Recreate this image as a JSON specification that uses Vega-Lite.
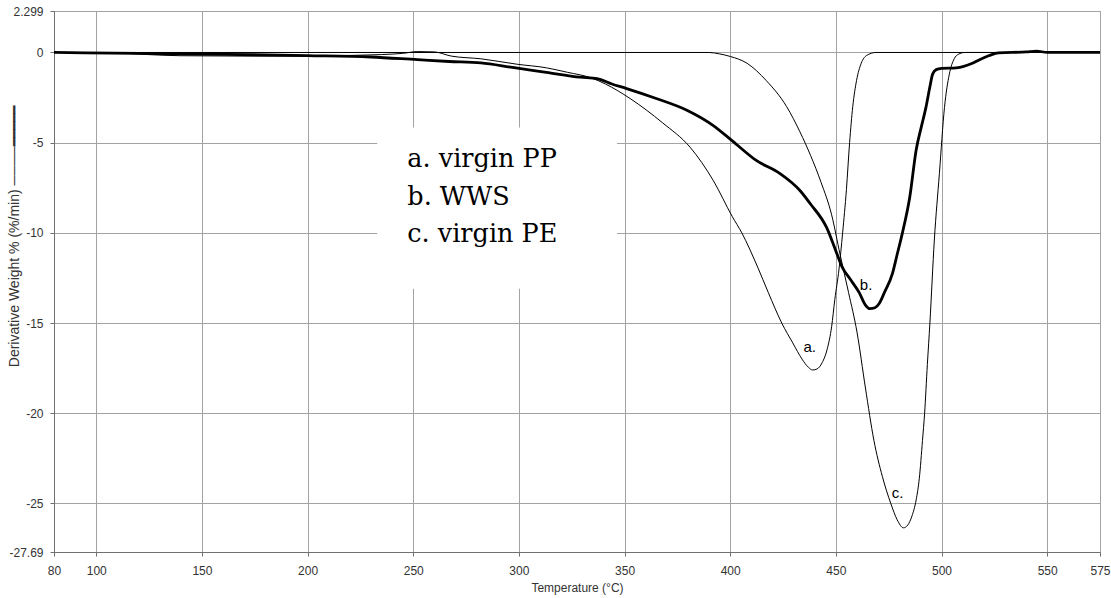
{
  "$schema": "https://vega.github.io/schema/vega-lite/v6.json",
  "width": 1046,
  "height": 541,
  "autosize": {"type": "none"},
  "padding": {"left": 54, "top": 11, "right": 11, "bottom": 46},
  "background": "white",
  "config": {
    "font": "Liberation Sans",
    "view": {"stroke": "#9a9a9a", "strokeWidth": 1},
    "axis": {
      "labelFont": "Liberation Sans",
      "titleFont": "Liberation Sans",
      "labelColor": "#333333",
      "titleColor": "#333333",
      "titleFontWeight": "normal",
      "labelFontSize": 12,
      "gridColor": "#a3a3a3",
      "gridWidth": 1,
      "domainColor": "#707070",
      "tickColor": "#707070",
      "tickSize": 4,
      "labelFlush": false,
      "labelOverlap": false,
      "labelBound": false
    }
  },
  "datasets": {
    "curves": [
      {"s":"a","T":80,"v":0},{"s":"a","T":110,"v":-0.03},{"s":"a","T":125,"v":-0.12},{"s":"a","T":140,"v":-0.18},{"s":"a","T":170,"v":-0.2},{"s":"a","T":200,"v":-0.2},{"s":"a","T":225,"v":-0.15},{"s":"a","T":245,"v":-0.05},{"s":"a","T":252,"v":0.05},{"s":"a","T":260,"v":0.03},{"s":"a","T":268,"v":-0.2},{"s":"a","T":282,"v":-0.35},{"s":"a","T":299,"v":-0.65},{"s":"a","T":313,"v":-0.85},{"s":"a","T":323,"v":-1.1},{"s":"a","T":334,"v":-1.4},{"s":"a","T":341,"v":-1.75},{"s":"a","T":352.6,"v":-2.55},{"s":"a","T":368,"v":-3.9},{"s":"a","T":381,"v":-5.25},{"s":"a","T":392,"v":-7.1},{"s":"a","T":401,"v":-9.1},{"s":"a","T":405.5,"v":-10},{"s":"a","T":413,"v":-11.9},{"s":"a","T":418,"v":-13.3},{"s":"a","T":424.4,"v":-15},{"s":"a","T":429.6,"v":-16.1},{"s":"a","T":434,"v":-17.0},{"s":"a","T":437,"v":-17.45},{"s":"a","T":439,"v":-17.6},{"s":"a","T":441,"v":-17.55},{"s":"a","T":443.5,"v":-17.2},{"s":"a","T":446,"v":-16.4},{"s":"a","T":448,"v":-15.2},{"s":"a","T":449.5,"v":-13.7},{"s":"a","T":451.5,"v":-12},{"s":"a","T":453.2,"v":-10},{"s":"a","T":455,"v":-7.6},{"s":"a","T":456.5,"v":-5.0},{"s":"a","T":458,"v":-3.0},{"s":"a","T":459.8,"v":-1.55},{"s":"a","T":462,"v":-0.6},{"s":"a","T":464.5,"v":-0.17},{"s":"a","T":469,"v":0},{"s":"a","T":520,"v":0},{"s":"a","T":575,"v":0},
      {"s":"b","T":80,"v":0},{"s":"b","T":120,"v":-0.05},{"s":"b","T":160,"v":-0.1},{"s":"b","T":200,"v":-0.17},{"s":"b","T":230,"v":-0.25},{"s":"b","T":252,"v":-0.4},{"s":"b","T":267,"v":-0.5},{"s":"b","T":282,"v":-0.58},{"s":"b","T":297,"v":-0.83},{"s":"b","T":313,"v":-1.1},{"s":"b","T":329,"v":-1.37},{"s":"b","T":337,"v":-1.45},{"s":"b","T":344,"v":-1.75},{"s":"b","T":351,"v":-2.0},{"s":"b","T":365,"v":-2.55},{"s":"b","T":379.5,"v":-3.2},{"s":"b","T":392,"v":-4.05},{"s":"b","T":401,"v":-4.9},{"s":"b","T":412.5,"v":-6.0},{"s":"b","T":423.4,"v":-6.7},{"s":"b","T":433,"v":-7.65},{"s":"b","T":438,"v":-8.4},{"s":"b","T":445.6,"v":-9.7},{"s":"b","T":450,"v":-11.0},{"s":"b","T":453,"v":-11.9},{"s":"b","T":457,"v":-12.6},{"s":"b","T":461,"v":-13.3},{"s":"b","T":464,"v":-14.0},{"s":"b","T":466,"v":-14.2},{"s":"b","T":468.5,"v":-14.15},{"s":"b","T":470.6,"v":-13.9},{"s":"b","T":473,"v":-13.3},{"s":"b","T":476.8,"v":-12.25},{"s":"b","T":479,"v":-11.2},{"s":"b","T":481.5,"v":-10},{"s":"b","T":485,"v":-8.0},{"s":"b","T":488,"v":-5.4},{"s":"b","T":490.5,"v":-4.1},{"s":"b","T":492.7,"v":-3.0},{"s":"b","T":494.5,"v":-1.9},{"s":"b","T":495.8,"v":-1.2},{"s":"b","T":497.5,"v":-0.95},{"s":"b","T":500,"v":-0.88},{"s":"b","T":507,"v":-0.85},{"s":"b","T":514.6,"v":-0.6},{"s":"b","T":518,"v":-0.4},{"s":"b","T":522.6,"v":-0.17},{"s":"b","T":527,"v":-0.02},{"s":"b","T":540,"v":0.03},{"s":"b","T":545,"v":0.08},{"s":"b","T":550,"v":0},{"s":"b","T":575,"v":0},
      {"s":"c","T":80,"v":0},{"s":"c","T":390,"v":0},{"s":"c","T":395,"v":-0.08},{"s":"c","T":400,"v":-0.22},{"s":"c","T":408,"v":-0.6},{"s":"c","T":417,"v":-1.55},{"s":"c","T":426.7,"v":-3.0},{"s":"c","T":433,"v":-4.4},{"s":"c","T":438,"v":-5.7},{"s":"c","T":443,"v":-7.2},{"s":"c","T":448,"v":-9.0},{"s":"c","T":452,"v":-11.2},{"s":"c","T":456,"v":-13.3},{"s":"c","T":460,"v":-15.5},{"s":"c","T":464,"v":-18.6},{"s":"c","T":468,"v":-21.5},{"s":"c","T":472,"v":-23.5},{"s":"c","T":476,"v":-25.0},{"s":"c","T":479,"v":-25.9},{"s":"c","T":482,"v":-26.35},{"s":"c","T":484,"v":-26.2},{"s":"c","T":486,"v":-25.7},{"s":"c","T":488,"v":-24.8},{"s":"c","T":489.5,"v":-23.6},{"s":"c","T":491,"v":-21.5},{"s":"c","T":492,"v":-20},{"s":"c","T":493.3,"v":-17.3},{"s":"c","T":494.5,"v":-15.0},{"s":"c","T":496.6,"v":-10.4},{"s":"c","T":499,"v":-6.7},{"s":"c","T":501.4,"v":-3.05},{"s":"c","T":503.7,"v":-1.2},{"s":"c","T":506,"v":-0.35},{"s":"c","T":508,"v":-0.1},{"s":"c","T":511,"v":0},{"s":"c","T":575,"v":0}
    ],
    "box": [{"T": 233, "T2": 346.4, "v": -4.16, "v2": -13.1}],
    "legendText": [
      {"T": 247.2, "v": -6.375, "label": "a. virgin PP"},
      {"T": 247.2, "v": -8.48, "label": "b. WWS"},
      {"T": 247.2, "v": -10.53, "label": "c. virgin PE"}
    ],
    "tags": [
      {"T": 437.6, "v": -16.35, "label": "a."},
      {"T": 464.3, "v": -12.9, "label": "b."},
      {"T": 479.2, "v": -24.4, "label": "c."}
    ]
  },
  "encoding": {
    "x": {
      "field": "T",
      "type": "quantitative",
      "scale": {"domain": [80, 575], "nice": false, "zero": false},
      "axis": {
        "title": "Temperature (°C)",
        "titleFontSize": 12,
        "titleY": 35,
        "titleBaseline": "middle",
        "values": [80, 100, 150, 200, 250, 300, 350, 400, 450, 500, 550, 575],
        "labelExpr": "'' + datum.value",
        "labelPadding": 9,
        "grid": true
      }
    },
    "y": {
      "field": "v",
      "type": "quantitative",
      "scale": {"domain": [-27.69, 2.299], "nice": false, "zero": false},
      "axis": {
        "title": "Derivative Weight % (%/min) ────━━━━━",
        "titleFontSize": 14,
        "titleX": -40,
        "titleY": 225,
        "titleAngle": -90,
        "titleAlign": "center",
        "titleBaseline": "middle",
        "values": [2.299, 0, -5, -10, -15, -20, -25, -27.69],
        "labelExpr": "'' + datum.value",
        "labelPadding": 7,
        "grid": true
      }
    }
  },
  "layer": [
    {
      "data": {"name": "box"},
      "mark": {"type": "rect", "fill": "white", "strokeWidth": 0},
      "encoding": {
        "x2": {"field": "T2"},
        "y2": {"field": "v2"}
      }
    },
    {
      "data": {"name": "curves"},
      "transform": [{"filter": "datum.s != 'b'"}],
      "mark": {"type": "line", "color": "#000000", "strokeWidth": 1, "interpolate": "monotone", "strokeJoin": "round"},
      "encoding": {
        "detail": {"field": "s", "type": "nominal"}
      }
    },
    {
      "data": {"name": "curves"},
      "transform": [{"filter": "datum.s == 'b'"}],
      "mark": {"type": "line", "color": "#000000", "strokeWidth": 2.8, "interpolate": "monotone", "strokeJoin": "round"},
      "encoding": {
        "detail": {"field": "s", "type": "nominal"}
      }
    },
    {
      "data": {"name": "legendText"},
      "mark": {"type": "text", "font": "DejaVu Serif", "fontSize": 25.5, "align": "left", "baseline": "alphabetic", "color": "#000000"},
      "encoding": {"text": {"field": "label"}}
    },
    {
      "data": {"name": "tags"},
      "mark": {"type": "text", "font": "Liberation Sans", "fontSize": 15, "align": "center", "baseline": "middle", "color": "#000000"},
      "encoding": {"text": {"field": "label"}}
    }
  ]
}
